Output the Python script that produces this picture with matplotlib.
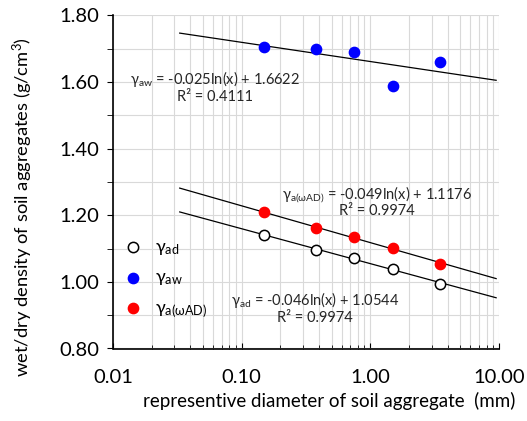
import matplotlib
matplotlib.use("Agg")
import matplotlib.pyplot as plt
import numpy as np
from matplotlib.ticker import LogLocator, FixedLocator, NullFormatter, FuncFormatter

plt.rcParams['font.family'] = ['Lato', 'DejaVu Sans']
plt.rcParams['mathtext.fontset'] = 'custom'
plt.rcParams['mathtext.rm'] = 'Lato'
plt.rcParams['mathtext.it'] = 'Lato'

# representative diameter (mm)
diameter = [0.15, 0.375, 0.75, 1.5, 3.5]
gamma_ad = [1.141, 1.096, 1.071, 1.039, 0.995]
gamma_aw = [1.706, 1.699, 1.689, 1.589, 1.661]
gamma_awad = [1.209, 1.161, 1.135, 1.101, 1.055]

fit_range = [0.033, 9.5]
TXT = "#262626"

fig = plt.figure(figsize=(5.27, 4.21), dpi=100)
ax = fig.add_axes([113 / 527, 1 - 348.5 / 421, (499 - 113) / 527, (348.5 - 15.3) / 421])

xs = np.geomspace(*fit_range, 50)
for ys in (gamma_ad, gamma_aw, gamma_awad):
    b, a = np.polyfit(np.log(diameter), ys, 1)
    ax.plot(xs, b * np.log(xs) + a, color="black", lw=0.9, zorder=2)

ax.scatter(diameter, gamma_ad, s=55, facecolor="white", edgecolor="black", lw=1.1,
           zorder=3, label="γ$_{\\mathrm{ad}}$")
ax.scatter(diameter, gamma_aw, s=55, color="#0000ff", zorder=3, label="γ$_{\\mathrm{aw}}$")
ax.scatter(diameter, gamma_awad, s=55, color="#ff0000", zorder=3,
           label="γ$_{\\mathrm{a(ωAD)}}$")

ax.set_xscale("log")
ax.set_xlim(0.01, 10)
ax.set_ylim(0.80, 1.80)
ax.xaxis.set_major_locator(LogLocator(base=10, numticks=10))
ax.xaxis.set_minor_locator(LogLocator(base=10, subs=np.arange(2, 10), numticks=10))
ax.xaxis.set_major_formatter(FuncFormatter(lambda v, p: f"{v:.2f}"))
ax.xaxis.set_minor_formatter(NullFormatter())
ax.set_yticks(np.arange(0.8, 1.81, 0.2))
ax.yaxis.set_minor_locator(FixedLocator(np.arange(0.9, 1.8, 0.2)))
ax.yaxis.set_major_formatter(FuncFormatter(lambda v, p: f"{v:.2f}"))

ax.grid(True, which="both", color="#d9d9d9", lw=0.8, zorder=0)
ax.set_axisbelow(True)
for s in ("top", "right"):
    ax.spines[s].set_visible(False)
for s in ("left", "bottom"):
    ax.spines[s].set_linewidth(1.2)
ax.tick_params(axis="x", which="both", direction="in", length=4, labelsize=14.5, pad=15, colors="black")
ax.tick_params(axis="x", which="minor", length=3)
ax.tick_params(axis="y", which="both", direction="out", length=4, labelsize=14.5, pad=6)

fig.text(23 / 527, 1 - 207 / 421, "wet/dry density of soil aggregates (g/cm$^3$)",
         fontsize=13.2, rotation=90, ha="center", va="center")
fig.text(329 / 527, 1 - 401 / 421, "representive diameter of soil aggregate  (mm)",
         fontsize=13.5, ha="center", va="center")

def ann(px, py, s):
    fig.text(px / 527, 1 - py / 421, s, fontsize=10.5, ha="center", va="center", color=TXT)

ann(215, 79, "γ$_{\\mathrm{aw}}$ = -0.025ln(x) + 1.6622")
ann(215, 97, "R² = 0.4111")
ann(377, 195, "γ$_{\\mathrm{a(ωAD)}}$ = -0.049ln(x) + 1.1176")
ann(377, 211, "R² = 0.9974")
ann(315, 300, "γ$_{\\mathrm{ad}}$ = -0.046ln(x) + 1.0544")
ann(315, 318, "R² = 0.9974")

ax.legend(loc="lower left", bbox_to_anchor=(0.005, 0.065), frameon=False, fontsize=13,
          handletextpad=0.6, labelspacing=0.7, borderaxespad=0, handlelength=1.2)

fig.savefig("out.png", dpi=100)
